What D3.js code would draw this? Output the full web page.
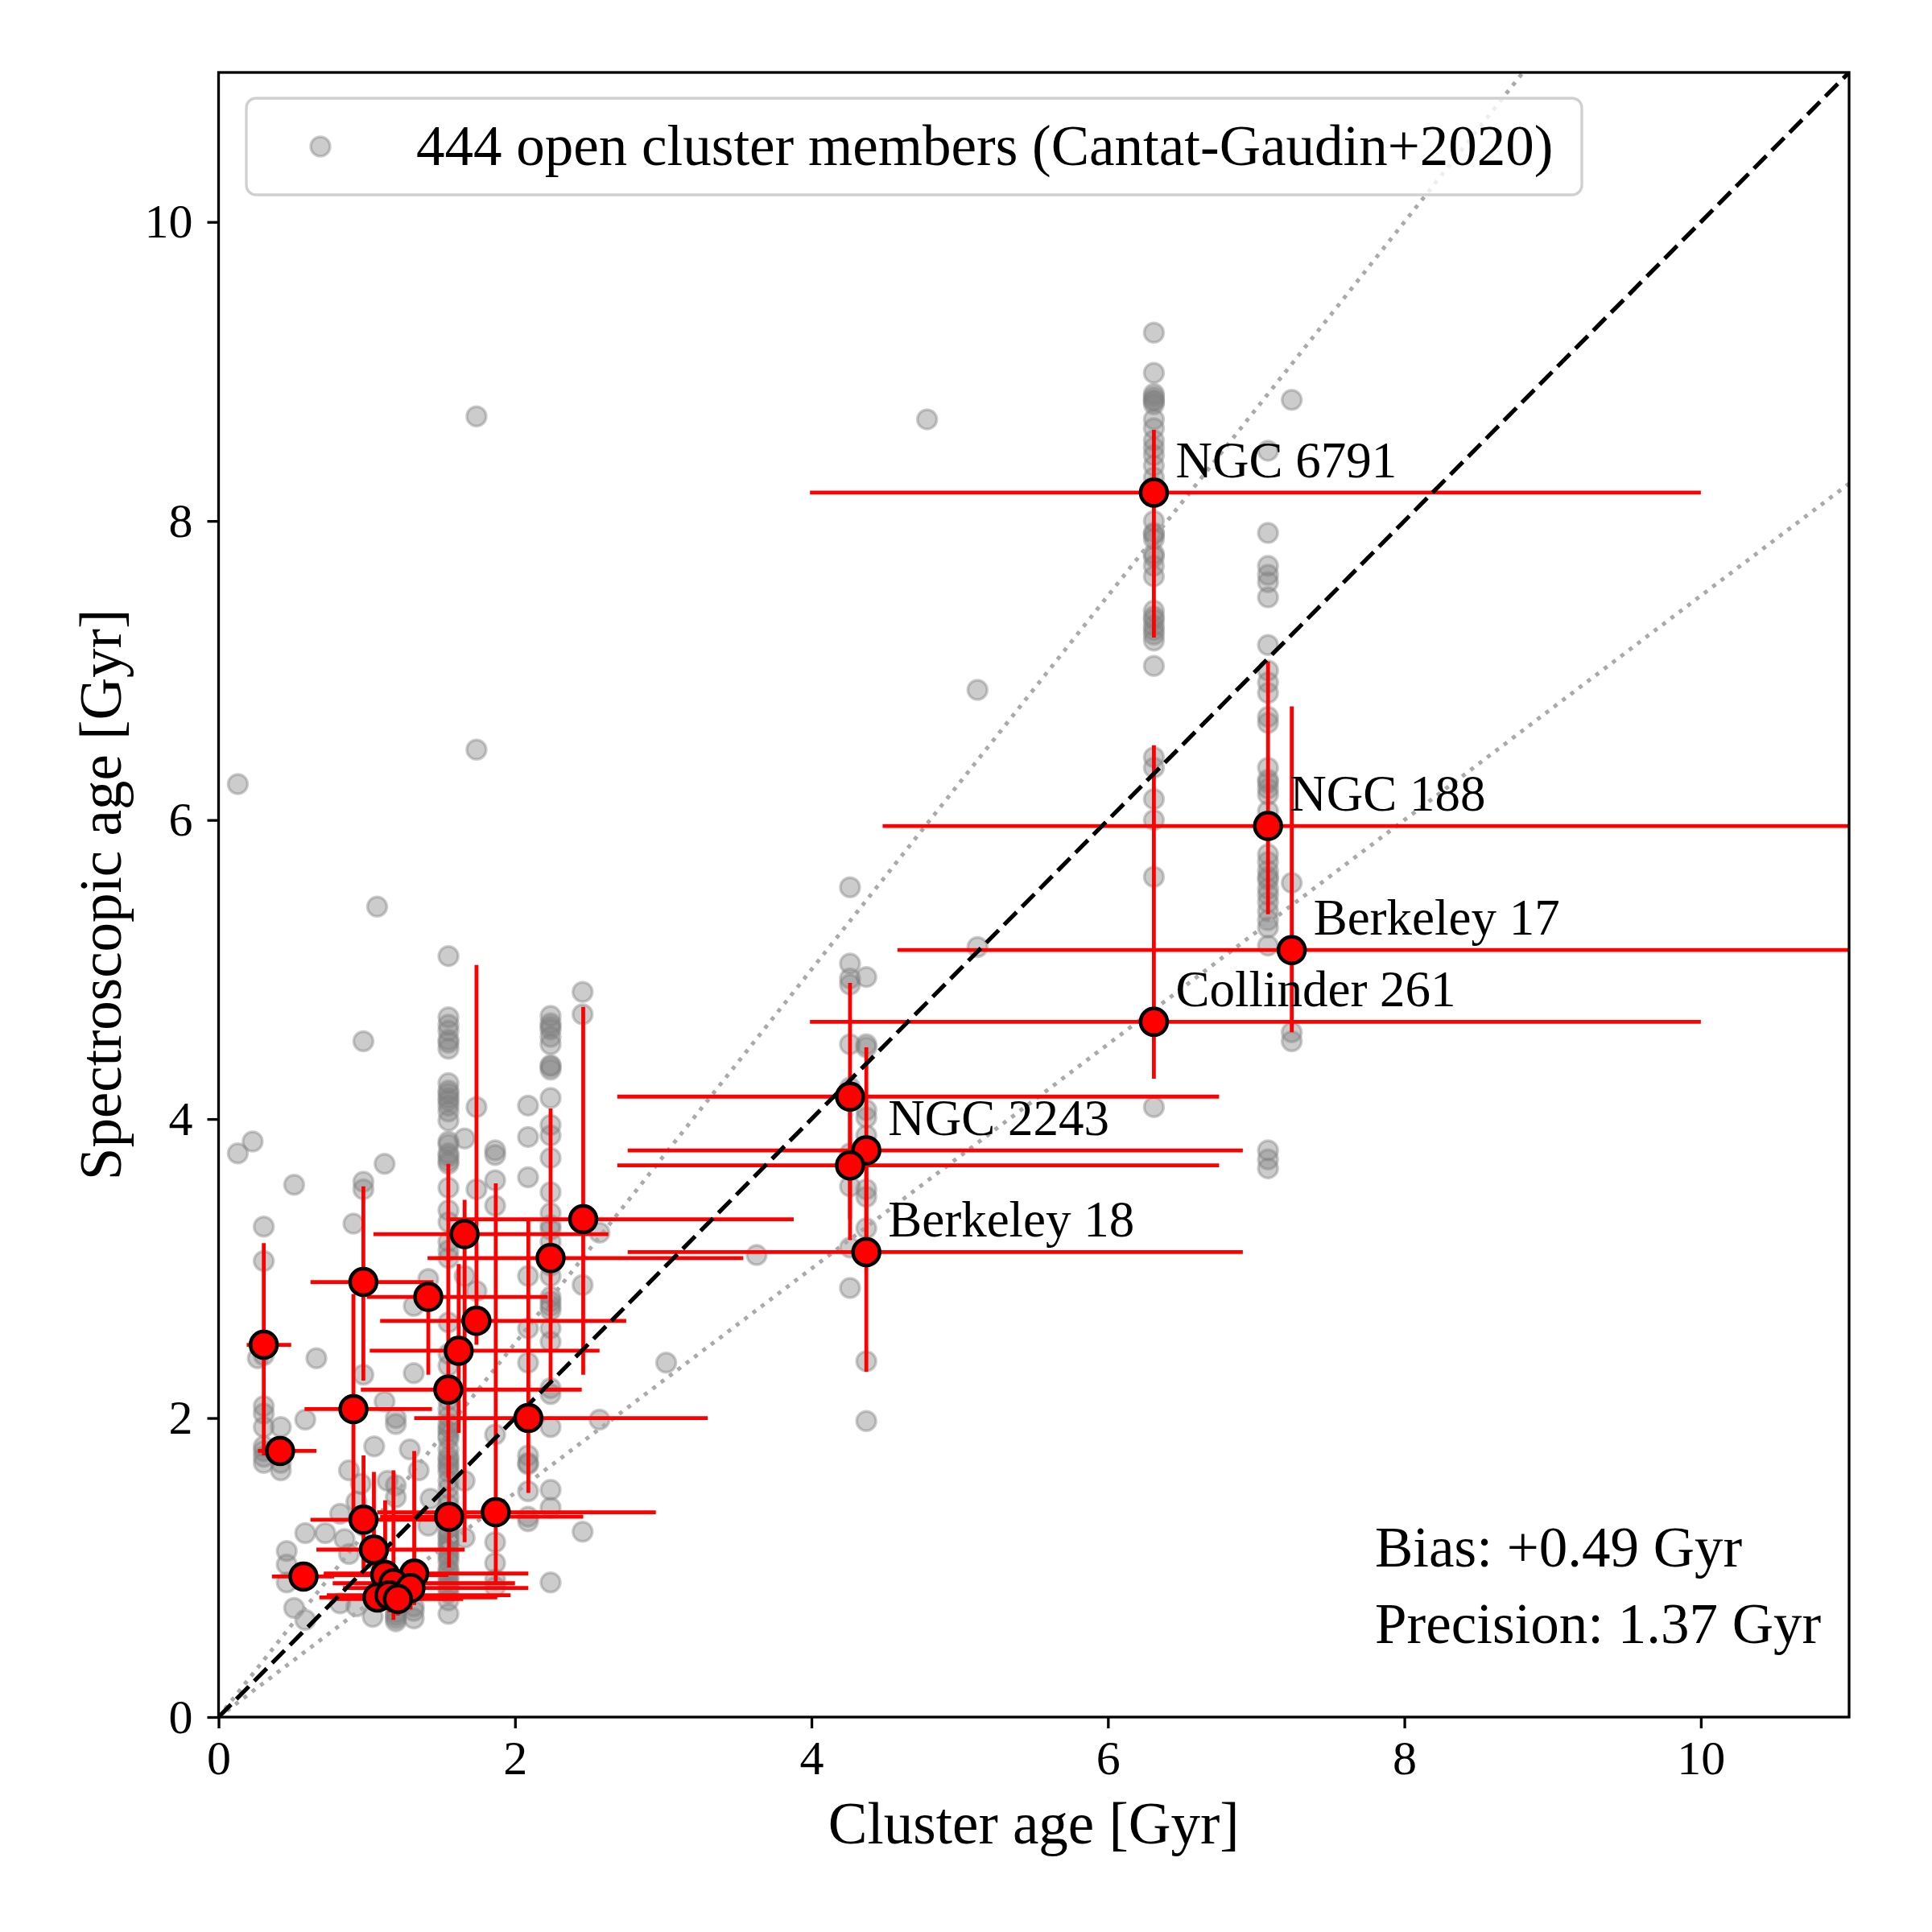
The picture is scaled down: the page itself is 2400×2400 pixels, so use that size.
<!DOCTYPE html>
<html>
<head>
<meta charset="utf-8">
<script src="https://cdn.jsdelivr.net/npm/d3@7"></script>
<style>
  body { margin: 0; background: #fff; }
  svg text { font-family: "Liberation Serif", "DejaVu Serif", serif; fill: #000; }
</style>
</head>
<body>
<div id="chart"></div>
<script>
// cluster members: [cluster age, [spectroscopic ages of its members]]
const memberColumns = [
  [0.13, [6.24, 3.77]],
  [0.23, [3.85]],
  [0.265, [2.40]],
  [0.305, [3.28, 3.05, 2.42, 2.08, 2.03, 1.94, 1.81, 1.78, 1.74, 1.70]],
  [0.42, [1.94, 1.65, 1.70]],
  [0.46, [1.11, 1.02, 0.90]],
  [0.51, [3.56, 0.73]],
  [0.585, [1.99, 1.23, 0.65]],
  [0.66, [2.40]],
  [0.72, [1.23]],
  [0.82, [0.76, 1.36]],
  [0.85, [1.19]],
  [0.88, [1.65, 1.09]],
  [0.91, [3.30]],
  [0.93, [1.44, 0.74]],
  [0.96, [1.56]],
  [0.977, [4.52, 3.58, 3.53, 2.29, 1.28]],
  [1.04, [1.06, 0.67]],
  [1.05, [1.81]],
  [1.07, [5.42]],
  [1.12, [3.70, 2.11]],
  [1.14, [1.58]],
  [1.196, [2.00, 1.96, 1.55, 1.47, 0.66, 0.64, 0.70, 0.68]],
  [1.29, [1.79]],
  [1.317, [2.75, 2.30, 0.66, 0.71, 0.74]],
  [1.35, [1.65]],
  [1.415, [2.93, 1.28]],
  [1.43, [1.46]],
  [1.551, [5.09, 4.68, 4.63, 4.59, 4.53, 4.51, 4.47, 4.24, 4.19, 4.17, 4.14, 4.12, 4.09, 4.05, 3.99,
           3.85, 3.83, 3.77, 3.75, 3.72, 3.70, 3.54, 3.39, 3.31, 3.18, 3.12, 3.07, 2.64, 2.43, 2.35,
           2.12, 2.06, 2.01, 1.96, 1.93, 1.91, 1.88, 1.86, 1.79, 1.74, 1.72, 1.69, 1.67, 1.64, 1.58,
           1.53, 1.47, 1.42, 1.31, 1.25, 1.22, 1.20, 1.17, 1.15, 1.12, 1.09, 1.07, 1.04, 0.99, 0.97,
           0.94, 0.91, 0.88, 0.86, 0.83, 0.78, 0.69]],
  [1.66, [3.87, 2.95, 1.58, 1.20]],
  [1.74, [8.70, 6.47, 4.08, 3.53, 2.85, 2.64]],
  [1.866, [3.79, 3.76, 3.59, 3.42, 1.89, 1.17, 1.03, 0.92, 0.87]],
  [2.088, [4.09, 3.88, 3.61, 2.95, 2.60, 2.37, 1.75, 1.70, 1.69, 1.51, 1.34, 1.31]],
  [2.24, [4.69, 4.64, 4.62, 4.60, 4.55, 4.50, 4.36, 4.35, 4.33, 4.14, 3.96, 3.89, 3.74, 3.51, 3.37,
          3.29, 3.26, 3.18, 3.02, 2.95, 2.81, 2.78, 2.75, 2.72, 2.60, 2.51, 2.20, 2.16, 1.94, 1.52,
          1.40, 0.90]],
  [2.456, [4.85, 4.70, 2.89, 1.24]],
  [2.57, [3.24, 1.99]],
  [3.02, [2.37]],
  [3.63, [3.09]],
  [4.26, [5.55, 5.04, 4.94, 4.90, 4.50, 4.21, 3.77, 3.55, 3.14, 2.87]],
  [4.37, [4.95, 4.50, 4.48, 4.06, 4.01, 3.89, 3.53, 3.48, 3.27, 2.38, 1.98]],
  [4.78, [8.68]],
  [5.12, [6.87, 5.15]],
  [6.31, [9.26, 8.99, 8.85, 8.83, 8.81, 8.80, 8.78, 8.68, 8.62, 8.54, 8.49, 8.44, 8.37, 8.29, 8.23,
          8.00, 7.92, 7.91, 7.88, 7.78, 7.76, 7.70, 7.63, 7.40, 7.36, 7.34, 7.30, 7.27, 7.24, 7.20,
          7.03, 6.42, 6.35, 6.14, 6.00, 5.62, 4.08]],
  [7.08, [8.47, 7.92, 7.70, 7.64, 7.59, 7.49, 7.17, 7.00, 6.92, 6.85, 6.69, 6.65, 6.35, 6.27, 6.25,
          6.21, 6.17, 6.06, 5.77, 5.72, 5.66, 5.62, 5.60, 5.54, 5.50, 5.45, 5.39, 5.33, 5.28, 5.16,
          3.79, 3.73, 3.67]],
  [7.24, [8.81, 5.58, 4.58, 4.52]]
];

// per-cluster means with asymmetric error bars
const clusterNames = ['NGC 6791', 'NGC 188', 'Berkeley 17', 'Collinder 261', 'NGC 2243', '', '', 'Berkeley 18',
  '', '', '', '', '', '', '', '', '', '', '', '', '', '', '', '', '', '', '', '', '', '', '', ''];
const clusterAge = [6.31, 7.08, 7.24, 6.31, 4.37, 4.26, 4.26, 4.37,
  0.305, 0.415, 0.977, 0.91, 1.415, 1.66, 1.74, 1.62, 1.55, 2.46, 2.24, 2.09,
  0.978, 1.555, 1.87, 1.048, 0.573, 1.124, 1.32, 1.18, 1.072, 1.153, 1.295, 1.21];
const specAge = [8.19, 5.96, 5.13, 4.65, 3.79, 4.15, 3.69, 3.11,
  2.49, 1.78, 2.91, 2.06, 2.81, 3.23, 2.65, 2.45, 2.19, 3.33, 3.07, 2.00,
  1.32, 1.34, 1.37, 1.12, 0.94, 0.95, 0.96, 0.895, 0.80, 0.815, 0.863, 0.79];
const ageLo = [3.99, 4.48, 4.58, 3.99, 2.76, 2.69, 2.69, 2.76,
  0.19, 0.265, 0.62, 0.58, 1.0, 1.045, 1.09, 1.02, 0.96, 1.56, 1.41, 1.32,
  0.62, 1.09, 1.07, 0.66, 0.36, 0.71, 0.71, 0.77, 0.68, 0.73, 0.84, 0.80];
const ageHi = [10.0, 11.5, 11.5, 10.0, 6.91, 6.75, 6.75, 6.91,
  0.49, 0.66, 1.45, 1.44, 2.22, 2.63, 2.75, 2.57, 2.45, 3.88, 3.54, 3.30,
  1.46, 2.46, 2.95, 1.66, 0.78, 1.55, 2.09, 2.0, 1.88, 1.97, 2.09, 1.65];
const specLo = [7.22, 5.37, 4.58, 4.27, 3.04, 3.33, 3.19, 2.31,
  1.75, 1.74, 2.25, 1.36, 2.29, 1.17, 2.49, 1.90, 1.60, 2.29, 2.23, 1.50,
  0.99, 1.0, 0.90, 0.95, 0.90, 0.80, 0.75, 0.65, 0.70, 0.70, 0.72, 0.68];
const specHi = [8.61, 7.06, 6.76, 6.50, 4.48, 4.91, 4.15, 3.85,
  3.17, 1.82, 3.55, 2.83, 2.90, 3.46, 5.03, 3.03, 3.70, 4.75, 4.07, 3.32,
  1.75, 1.75, 3.57, 1.64, 0.98, 1.45, 1.78, 1.65, 0.95, 0.95, 1.0, 0.90];

const xTicks = [0, 2, 4, 6, 8, 10];
const yTicks = [0, 2, 4, 6, 8, 10];
const legendLabel = '444 open cluster members (Cantat-Gaudin+2020)';
const statLines = ['Bias: +0.49 Gyr', 'Precision: 1.37 Gyr'];
const guideSlopes = [1.25, 0.75];

const W = 2400, H = 2400;
const plot = { left: 271.5, right: 2297, top: 90, bottom: 2133 };

const svg = d3.select('#chart').append('svg')
  .attr('width', W).attr('height', H)
  .attr('viewBox', `0 0 ${W} ${H}`);
svg.append('rect').attr('width', W).attr('height', H).attr('fill', '#fff');

const xScale = d3.scaleLinear().domain([0, 11]).range([plot.left, plot.right]);
const yScale = d3.scaleLinear().domain([0, 11]).range([plot.bottom, plot.top]);

svg.append('defs').append('clipPath').attr('id', 'plot-clip')
  .append('rect')
  .attr('x', plot.left).attr('y', plot.top)
  .attr('width', plot.right - plot.left).attr('height', plot.bottom - plot.top);

const layer = svg.append('g').attr('clip-path', 'url(#plot-clip)');

// members
const members = memberColumns.flatMap(([age, ys]) => ys.map(y => ({ age, y })));
layer.append('g').selectAll('circle')
  .data(members)
  .join('circle')
  .attr('cx', d => xScale(d.age))
  .attr('cy', d => yScale(d.y))
  .attr('r', 12)
  .attr('fill', 'rgba(128,128,128,0.4)')
  .attr('stroke', 'rgba(128,128,128,0.4)')
  .attr('stroke-width', 3.5);

// +-25% guides
layer.append('g').selectAll('line')
  .data(guideSlopes)
  .join('line')
  .attr('x1', xScale(0)).attr('y1', yScale(0))
  .attr('x2', xScale(11)).attr('y2', d => yScale(11 * d))
  .attr('stroke', '#aaaaaa')
  .attr('stroke-width', 5)
  .attr('stroke-dasharray', '5 8');

// error bars
const clusters = clusterAge.map((x, i) => ({
  name: clusterNames[i], x, y: specAge[i],
  xlo: ageLo[i], xhi: ageHi[i], ylo: specLo[i], yhi: specHi[i]
}));
const bars = layer.append('g').attr('stroke', '#ff0000').attr('stroke-width', 4.8);
bars.selectAll('line.h')
  .data(clusters)
  .join('line').attr('class', 'h')
  .attr('x1', d => xScale(d.xlo)).attr('x2', d => xScale(d.xhi))
  .attr('y1', d => yScale(d.y)).attr('y2', d => yScale(d.y));
bars.selectAll('line.v')
  .data(clusters)
  .join('line').attr('class', 'v')
  .attr('x1', d => xScale(d.x)).attr('x2', d => xScale(d.x))
  .attr('y1', d => yScale(d.ylo)).attr('y2', d => yScale(d.yhi));

// one-to-one line
layer.append('line')
  .attr('x1', xScale(0)).attr('y1', yScale(0))
  .attr('x2', xScale(11)).attr('y2', yScale(11))
  .attr('stroke', '#000')
  .attr('stroke-width', 5.2)
  .attr('stroke-dasharray', '22 9.5');

layer.append('g').selectAll('circle')
  .data(clusters)
  .join('circle')
  .attr('cx', d => xScale(d.x))
  .attr('cy', d => yScale(d.y))
  .attr('r', 16.5)
  .attr('fill', '#ff0000')
  .attr('stroke', '#000')
  .attr('stroke-width', 4.5);

// cluster names
svg.append('g').selectAll('text')
  .data(clusters.filter(d => d.name))
  .join('text')
  .attr('x', d => xScale(d.x) + 27)
  .attr('y', d => yScale(d.y) - 19)
  .attr('font-size', 63)
  .text(d => d.name);

// axes
const xAxis = svg.append('g')
  .attr('transform', `translate(0,${plot.bottom})`)
  .call(d3.axisBottom(xScale).tickValues(xTicks).tickSize(14).tickPadding(14).tickFormat(d3.format('d')));
const yAxis = svg.append('g')
  .attr('transform', `translate(${plot.left},0)`)
  .call(d3.axisLeft(yScale).tickValues(yTicks).tickSize(14).tickPadding(18).tickFormat(d3.format('d')));
[xAxis, yAxis].forEach(g => {
  g.select('.domain').remove();
  g.selectAll('.tick line').attr('stroke', '#000').attr('stroke-width', 3.3);
  g.selectAll('.tick text').attr('font-size', 60).attr('font-family', '"Liberation Serif", serif');
});

svg.append('rect')
  .attr('x', plot.left).attr('y', plot.top)
  .attr('width', plot.right - plot.left).attr('height', plot.bottom - plot.top)
  .attr('fill', 'none').attr('stroke', '#000').attr('stroke-width', 3.3);

svg.append('text')
  .attr('x', (plot.left + plot.right) / 2).attr('y', 2290)
  .attr('text-anchor', 'middle').attr('font-size', 73)
  .text('Cluster age [Gyr]');
svg.append('text')
  .attr('transform', `translate(150,${(plot.top + plot.bottom) / 2}) rotate(-90)`)
  .attr('text-anchor', 'middle').attr('font-size', 73)
  .text('Spectroscopic age [Gyr]');

// legend
const legend = svg.append('g');
legend.append('rect')
  .attr('x', 306).attr('y', 122).attr('width', 1659).attr('height', 120).attr('rx', 12)
  .attr('fill', 'rgba(255,255,255,0.8)').attr('stroke', '#d0d0d0').attr('stroke-width', 3.3);
legend.append('circle')
  .attr('cx', 398).attr('cy', 182).attr('r', 12)
  .attr('fill', 'rgba(128,128,128,0.4)')
  .attr('stroke', 'rgba(128,128,128,0.4)').attr('stroke-width', 3.5);
legend.append('text')
  .attr('x', 517).attr('y', 182).attr('dy', '0.33em')
  .attr('font-size', 71)
  .text(legendLabel);

svg.append('g').selectAll('text')
  .data(statLines)
  .join('text')
  .attr('x', 1708)
  .attr('y', (d, i) => 1946 + i * 95)
  .attr('font-size', 71)
  .text(d => d);
</script>
</body>
</html>
